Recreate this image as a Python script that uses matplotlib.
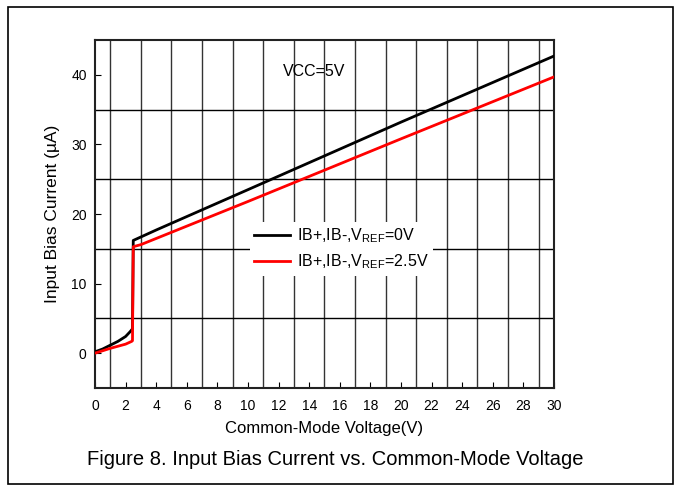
import numpy as np
import matplotlib.pyplot as plt
from matplotlib.patches import Rectangle

plt.rcParams['font.family'] = ['Liberation Sans', 'DejaVu Sans']

# IB+, IB-, VREF=0V (black)
v_ref0 = [0.0, 0.5, 1.0, 1.5, 2.0, 2.3, 2.45, 2.5, 3.0, 4.0, 10.0, 20.0, 30.0]
ib_ref0 = [0.2, 0.6, 1.15, 1.7, 2.4, 3.1, 3.5, 16.2, 16.7, 17.7, 23.5, 33.2, 42.7]

# IB+, IB-, VREF=2.5V (red)
v_ref25 = [0.0, 0.5, 1.0, 1.5, 2.0, 2.4, 2.45, 2.5, 3.0, 10.0, 20.0, 30.0]
ib_ref25 = [0.0, 0.35, 0.7, 1.0, 1.3, 1.7, 1.8, 15.3, 15.6, 21.8, 30.8, 39.7]

x_major = np.arange(0, 31, 2)
y_major = [0, 10, 20, 30, 40]
x_grid = np.arange(1, 30, 2)
y_grid = [5, 15, 25, 35]

fig = plt.figure(figsize=(6.81, 4.91), dpi=100)
ax = fig.add_axes([0.1395, 0.2098, 0.6740, 0.7087])

for gx in x_grid:
    ax.axvline(gx, color='#333333', lw=1.0, zorder=1)
for gy in y_grid:
    ax.axhline(gy, color='black', lw=1.0, zorder=1)

ax.plot(v_ref0, ib_ref0, color='black', lw=2, label='IB+,IB-,V$_{\\mathregular{REF}}$=0V', zorder=3)
ax.plot(v_ref25, ib_ref25, color='#ff0000', lw=2, label='IB+,IB-,V$_{\\mathregular{REF}}$=2.5V', zorder=3)

ax.set_xlim(0, 30)
ax.set_ylim(-5, 45)
ax.set_xticks(x_major)
ax.set_yticks(y_major)
ax.tick_params(direction='in', length=4, labelsize=10, color='black')
ax.tick_params(axis='x', pad=8)
ax.tick_params(axis='y', pad=6)
for s in ax.spines.values():
    s.set_color('#222222')
    s.set_linewidth(1.5)

ax.set_xlabel('Common-Mode Voltage(V)', fontsize=12, labelpad=6)
ax.set_ylabel('Input Bias Current (\u00b5A)', fontsize=12.5, labelpad=8)

ax.text(12.3, 40.5, 'VCC=5V', fontsize=11.5, va='center', ha='left', zorder=4)

leg = ax.legend(loc='center', bbox_to_anchor=(0.537, 0.40), frameon=True, fontsize=11.5,
                handlelength=2.25, handletextpad=0.4, labelspacing=0.45, borderpad=0.3)
leg.get_frame().set_edgecolor('none')
leg.get_frame().set_facecolor('white')
leg.get_frame().set_alpha(1)
leg.set_zorder(5)

fig.text(0.4927, 0.065, 'Figure 8. Input Bias Current vs. Common-Mode Voltage', fontsize=14.5,
         ha='center', va='center')

fig.patches.append(Rectangle((8 / 681, 7 / 491), 665 / 681, 477 / 491, transform=fig.transFigure,
                             fill=False, edgecolor='black', lw=1.2))

fig.savefig('out.png', dpi=100)
